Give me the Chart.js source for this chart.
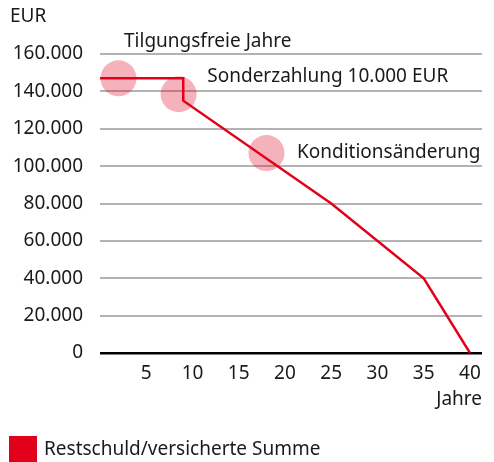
<!DOCTYPE html>
<html>
<head>
<meta charset="utf-8">
<script src="https://cdn.jsdelivr.net/npm/chart.js@4.4.1/dist/chart.umd.min.js"></script>
<style>
  html, body { margin: 0; padding: 0; background: #fff; }
  #wrap { position: relative; width: 494px; height: 462px; }
</style>
</head>
<body>
<div id="wrap"><canvas id="chart" width="494" height="462"></canvas></div>
<script>
// Restschuld-Verlauf
const years = [0, 9, 9, 25, 35, 40];
const restschuld = [147000, 147000, 135000, 80000, 40000, 0];

// markierte Ereignisse
const eventYears = [2, 8.5, 18];
const eventValues = [147000, 138500, 107000];
const eventLabels = ['Tilgungsfreie Jahre', 'Sonderzahlung 10.000 EUR', 'Konditionsänderung'];

const xTicks = [5, 10, 15, 20, 25, 30, 35, 40];
const yTicks = [0, 20000, 40000, 60000, 80000, 100000, 120000, 140000, 160000];

const RED = '#e2001a';
const FONT = "'Noto Sans', sans-serif";

// label anchors in data units (left edge, vertical middle)
const labelPos = [
    { x: 2.6, y: 166500 },
    { x: 11.6, y: 147700 },
    { x: 21.3, y: 107000 },
];

const fmt = (v) => String(v).replace(/\B(?=(\d{3})+(?!\d))/g, '.');

const textPlugin = {
    id: 'texts',
    afterDatasetsDraw(chart) {
        const { ctx, scales: { x, y } } = chart;
        ctx.save();
        ctx.fillStyle = '#1a1a1a';
        ctx.font = `19px ${FONT}`;
        ctx.textBaseline = 'middle';
        ctx.textAlign = 'left';
        eventLabels.forEach((t, i) => {
            ctx.fillText(t, x.getPixelForValue(labelPos[i].x), y.getPixelForValue(labelPos[i].y));
        });
        // axis titles
        ctx.fillText('EUR', 10, 17);
        ctx.textAlign = 'right';
        ctx.fillText('Jahre', chart.chartArea.right, 400);
        // legend
        ctx.fillStyle = RED;
        ctx.fillRect(9, 436, 28, 26);
        ctx.fillStyle = '#1a1a1a';
        ctx.textAlign = 'left';
        ctx.fillText('Restschuld/versicherte Summe', 44, 450);
        ctx.restore();
    },
};

new Chart(document.getElementById('chart'), {
    type: 'scatter',
    data: {
        datasets: [
            {
                label: 'Restschuld/versicherte Summe',
                data: years.map((x, i) => ({ x, y: restschuld[i] })),
                showLine: true,
                borderColor: RED,
                borderWidth: 2.5,
                pointRadius: 0,
                tension: 0,
            },
            {
                label: 'Ereignisse',
                data: eventYears.map((x, i) => ({ x, y: eventValues[i] })),
                showLine: false,
                pointRadius: 18,
                pointHoverRadius: 18,
                pointBorderWidth: 0,
                backgroundColor: 'rgba(226, 0, 26, 0.3)',
                borderColor: 'rgba(0,0,0,0)',
                clip: false,
            },
        ],
    },
    options: {
        responsive: false,
        animation: false,
        layout: { autoPadding: false, padding: { top: 54, right: 12, left: 0, bottom: 0 } },
        plugins: {
            legend: { display: false },
            tooltip: { enabled: false },
        },
        scales: {
            x: {
                type: 'linear',
                min: 0,
                max: 41.3,
                afterFit: (scale) => {
                    scale.height = 109;
                    scale.paddingLeft = 0;
                    scale.paddingRight = 0;
                },
                afterBuildTicks: (scale) => { scale.ticks = xTicks.map(v => ({ value: v })); },
                grid: { display: false, drawTicks: false },
                border: { display: false },
                ticks: {
                    color: '#1a1a1a',
                    font: { family: FONT, size: 19 },
                    padding: 9,
                    maxRotation: 0,
                    autoSkip: false,
                },
            },
            y: {
                min: 0,
                max: 160000,
                afterFit: (scale) => { scale.width = 100; },
                afterBuildTicks: (scale) => { scale.ticks = yTicks.map(v => ({ value: v })); },
                grid: {
                    drawTicks: false,
                    color: (c) => (c.tick && c.tick.value === 0 ? '#000' : '#b3b3b3'),
                    lineWidth: (c) => (c.tick && c.tick.value === 0 ? 2.5 : 2),
                },
                border: { display: false },
                ticks: {
                    color: '#1a1a1a',
                    font: { family: FONT, size: 19 },
                    padding: 17,
                    callback: (v) => fmt(v),
                },
            },
        },
    },
    plugins: [textPlugin],
});
</script>
</body>
</html>
